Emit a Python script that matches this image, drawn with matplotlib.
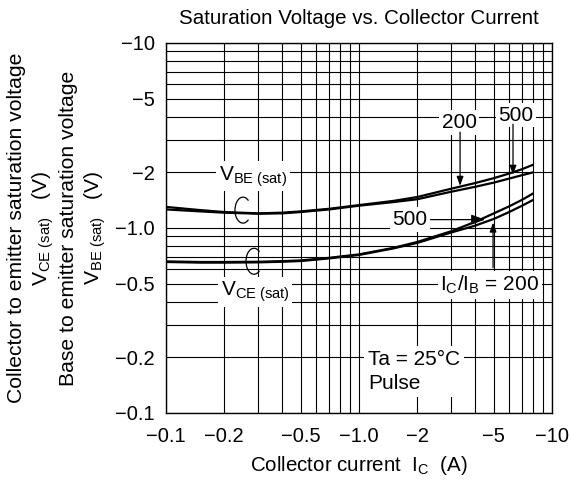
import numpy as np
import matplotlib
matplotlib.use("Agg")
import matplotlib.pyplot as plt
from matplotlib.ticker import FixedLocator, LogLocator, NullFormatter
from matplotlib.patches import Arc
from matplotlib.transforms import ScaledTranslation

plt.rcParams['font.family'] = ['Liberation Sans', 'DejaVu Sans']
plt.rcParams['mathtext.fontset'] = 'custom'
plt.rcParams['mathtext.rm'] = 'Liberation Sans'
plt.rcParams['mathtext.it'] = 'Liberation Sans:italic'

# ---- data (currents/voltages are negative) ----
ic = [-0.1, -0.15, -0.2, -0.3, -0.4, -0.5, -0.7, -1.0, -1.5, -2, -3, -4, -5, -6, -7, -8]
vbe_200 = [-1.30, -1.25, -1.22, -1.20, -1.21, -1.23, -1.27, -1.33, -1.40, -1.47, -1.63, -1.75, -1.86, -1.97, -2.08, -2.20]
vbe_500 = [-1.26, -1.23, -1.21, -1.195, -1.20, -1.22, -1.26, -1.32, -1.38, -1.43, -1.57, -1.67, -1.76, -1.85, -1.93, -2.00]
vce_500 = [-0.66, -0.655, -0.655, -0.657, -0.662, -0.668, -0.69, -0.72, -0.78, -0.84, -0.96, -1.08, -1.20, -1.31, -1.42, -1.54]
vce_200 = [-0.655, -0.65, -0.65, -0.652, -0.657, -0.663, -0.685, -0.715, -0.775, -0.83, -0.945, -1.03, -1.12, -1.22, -1.32, -1.42]

x_ticks = [-0.1, -0.2, -0.5, -1.0, -2, -5, -10]
x_ticklabels = ["\u22120.1", "\u22120.2", "\u22120.5", "\u22121.0", "\u22122", "\u22125", "\u221210"]
y_ticks = [-0.1, -0.2, -0.5, -1.0, -2, -5, -10]
y_ticklabels = ["\u22120.1", "\u22120.2", "\u22120.5", "\u22121.0", "\u22122", "\u22125", "\u221210"]

W, H = 571, 482
fig = plt.figure(figsize=(W / 100, H / 100), dpi=100)
ax = fig.add_axes([166 / W, 1 - 413 / H, 386 / W, 370 / H])

ax.set_xscale('log')
ax.set_yscale('log')
ax.set_xlim(0.1, 10)
ax.set_ylim(0.1, 10)

x = np.abs(ic)
for s in (vbe_200, vbe_500, vce_500, vce_200):
    ax.plot(x, np.abs(s), color='black', lw=1.6, solid_capstyle='butt', zorder=3)

# grid
ax.xaxis.set_major_locator(FixedLocator(np.abs(x_ticks)))
ax.yaxis.set_major_locator(FixedLocator(np.abs(y_ticks)))
ax.xaxis.set_minor_locator(LogLocator(base=10, subs=np.arange(2, 10)))
ax.yaxis.set_minor_locator(LogLocator(base=10, subs=np.arange(2, 10)))
ax.xaxis.set_minor_formatter(NullFormatter())
ax.yaxis.set_minor_formatter(NullFormatter())
ax.set_xticklabels(x_ticklabels)
ax.set_yticklabels(y_ticklabels)
ax.grid(which='both', color='black', lw=0.8, zorder=1)
ax.tick_params(which='both', length=0)
ax.tick_params(axis='x', pad=10, labelsize=14.5)
ax.tick_params(axis='y', pad=8, labelsize=14.5)
for sp in ax.spines.values():
    sp.set_linewidth(1.0)
    sp.set_color('black')

ax.set_title("Saturation Voltage vs. Collector Current", fontsize=14.8, pad=13.5)
ax.set_xlabel(r"Collector current  $\mathregular{I_C}$  (A)", fontsize=14.8, labelpad=6)

# multi-line y label
ylab = ["Collector to emitter saturation voltage",
        r"$\mathregular{V_{CE\ (sat)}}$   (V)",
        "Base to emitter saturation voltage",
        r"$\mathregular{V_{BE\ (sat)}}$   (V)"]
ylab_x = [17, 43, 69, 95]
for t, xp in zip(ylab, ylab_x):
    fig.text(xp / W, 1 - 228 / H, t, rotation=90, ha='center', va='center', fontsize=15.2)

bb = dict(facecolor='white', edgecolor='none', pad=2)
ap = dict(arrowstyle='-|>,head_length=0.55,head_width=0.2', color='black', lw=0.9,
          shrinkA=0, shrinkB=0)

ax.text(0.2825, 1.90, r"$\mathregular{V_{BE\ (sat)}}$", ha='center', va='center', fontsize=15, bbox=bb, zorder=4)
ax.text(0.289, 0.450, r"$\mathregular{V_{CE\ (sat)}}$", ha='center', va='center', fontsize=15, bbox=bb, zorder=4)
ax.text(4.77, 0.491, r"$\mathregular{I_C/I_B}$ = 200", ha='center', va='center', fontsize=15, bbox=bb, zorder=4)
ax.text(1.113, 0.168, "Ta = 25\u00b0C\nPulse", ha='left', va='center', fontsize=15,
        linespacing=1.3, bbox=dict(facecolor='white', edgecolor='none', pad=3), zorder=4)

# VCE 500 arrow
ax.annotate("500", xy=(4.5, 1.11), xytext=(1.84, 1.11), ha='center', va='center', fontsize=15,
            bbox=bb, arrowprops=ap, zorder=4)
# VCE 200 arrow
ax.annotate("", xy=(4.95, 1.07), xytext=(4.95, 0.61), arrowprops=ap, zorder=4)
# VBE 200
ax.text(3.30, 3.71, "200", ha='center', va='center', fontsize=15, bbox=bb, zorder=4)
ax.annotate("", xy=(3.34, 1.69), xytext=(3.34, 3.30), arrowprops=ap, zorder=4)
# VBE 500
ax.text(6.51, 4.08, "500", ha='center', va='center', fontsize=15, bbox=bb, zorder=4)
ax.annotate("", xy=(6.28, 1.94), xytext=(6.28, 3.64), arrowprops=ap, zorder=4)

# small brace marks on the curve pairs
for (bx, by) in [(0.2446, 1.249), (0.279, 0.661)]:
    tr = fig.dpi_scale_trans + ScaledTranslation(bx, by, ax.transData)
    arc = Arc((0.02, 0), 0.16, 0.26, theta1=60, theta2=300, transform=tr, color='black', lw=0.9, zorder=4)
    ax.add_artist(arc)

fig.savefig("out.png", dpi=100)
